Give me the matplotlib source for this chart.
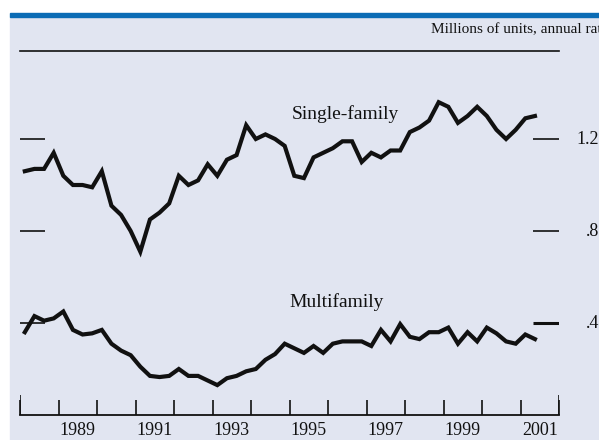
import matplotlib
matplotlib.use('Agg')
import matplotlib.pyplot as plt
from matplotlib.patches import Rectangle
from matplotlib.lines import Line2D
from matplotlib import transforms

plt.rcParams['font.family'] = ['Liberation Serif', 'DejaVu Serif']

# quarterly starts, millions of units, annual rate, 1988Q1 - 2001Q2
single_family = [1.06, 1.07, 1.07, 1.14, 1.04, 1.00, 1.00, 0.99, 1.06, 0.91,
                 0.87, 0.80, 0.71, 0.85, 0.88, 0.92, 1.04, 1.00, 1.02, 1.09,
                 1.04, 1.11, 1.13, 1.26, 1.20, 1.22, 1.20, 1.17, 1.04, 1.03,
                 1.12, 1.14, 1.16, 1.19, 1.19, 1.10, 1.14, 1.12, 1.15, 1.15,
                 1.23, 1.25, 1.28, 1.36, 1.34, 1.27, 1.30, 1.34, 1.30, 1.24,
                 1.20, 1.24, 1.29, 1.30]
multifamily = [0.36, 0.43, 0.41, 0.42, 0.45, 0.37, 0.35, 0.355, 0.37, 0.31,
               0.28, 0.26, 0.21, 0.17, 0.165, 0.17, 0.20, 0.17, 0.17, 0.15,
               0.13, 0.16, 0.17, 0.19, 0.20, 0.24, 0.265, 0.31, 0.29, 0.27,
               0.30, 0.27, 0.31, 0.32, 0.32, 0.32, 0.30, 0.37, 0.32, 0.395,
               0.34, 0.33, 0.36, 0.36, 0.38, 0.31, 0.36, 0.32, 0.38, 0.355,
               0.32, 0.31, 0.35, 0.33]
quarters = [1988 + 0.125 + 0.25 * i for i in range(len(single_family))]

year_ticks = list(range(1988, 2003))
year_labels = [1989, 1991, 1993, 1995, 1997, 1999, 2001]
y_ticks = [0.4, 0.8, 1.2]
y_tick_labels = ['.4', '.8', '1.2']

W, H = 599, 440
bg = '#e1e5f1'
ink = '#111111'

fig = plt.figure(figsize=(W / 100, H / 100), dpi=100, facecolor='white')
# panel background and blue top bar
fig.patches.append(Rectangle((10 / W, 0), 1, (H - 17) / H, transform=fig.transFigure,
                             color=bg, zorder=-5))
fig.patches.append(Rectangle((10 / W, (H - 17) / H), 1, 3.5 / H, transform=fig.transFigure,
                             color='#0b6cb5', zorder=-5))
# rule under the units note
fig.lines.append(Line2D([20 / W, 559 / W], [(H - 51) / H] * 2, transform=fig.transFigure,
                        color=ink, lw=1.2))
fig.text(431 / W, (H - 30) / H, 'Millions of units, annual rate', fontsize=11,
         ha='left', va='center', color=ink)

ax = fig.add_axes([20 / W, 25 / H, 539 / W, 364 / H])
ax.set_facecolor('none')
ax.set_xlim(1988, 2002)
ax.set_ylim(0, 364 / 230)
for s in ['left', 'right', 'top']:
    ax.spines[s].set_visible(False)
ax.spines['bottom'].set_linewidth(1.3)
ax.spines['bottom'].set_color(ink)

ax.plot(quarters, single_family, color=ink, lw=3, solid_joinstyle='miter')
ax.plot(quarters, multifamily, color=ink, lw=3, solid_joinstyle='miter')

ax.set_xticks(year_ticks)
ax.set_xticklabels([])
ax.set_xticks([y + 0.5 for y in year_labels], minor=True)
ax.set_xticklabels([str(y) for y in year_labels], minor=True, fontsize=13)
ax.tick_params(axis='x', which='major', direction='in', length=11, width=1.2, color=ink)
ax.tick_params(axis='x', which='minor', length=0, pad=5, labelcolor=ink)
ax.set_yticks([])
# taller end ticks
ax.vlines([1988, 2002], 0, 20 / 230, color=ink, lw=1.2)

# short y marks on both sides
ax.hlines(y_ticks, 1988, 1988 + 25 / 38.5, color=ink, lw=1.2)
ax.hlines(y_ticks, 2002 - 26 / 38.5, 2002, color=ink, lw=[2.2, 1.2, 1.2])
tr = transforms.blended_transform_factory(fig.transFigure, ax.transData)
for v, lab in zip(y_ticks, y_tick_labels):
    ax.text(599 / W, v, lab, transform=tr, ha='right', va='center', fontsize=13, color=ink)

ax.text(1996.44, 1.31, 'Single-family', fontsize=14, ha='center', va='center', color=ink)
ax.text(1996.23, 0.49, 'Multifamily', fontsize=14, ha='center', va='center', color=ink)

fig.savefig('out.png', dpi=100, facecolor='white')
